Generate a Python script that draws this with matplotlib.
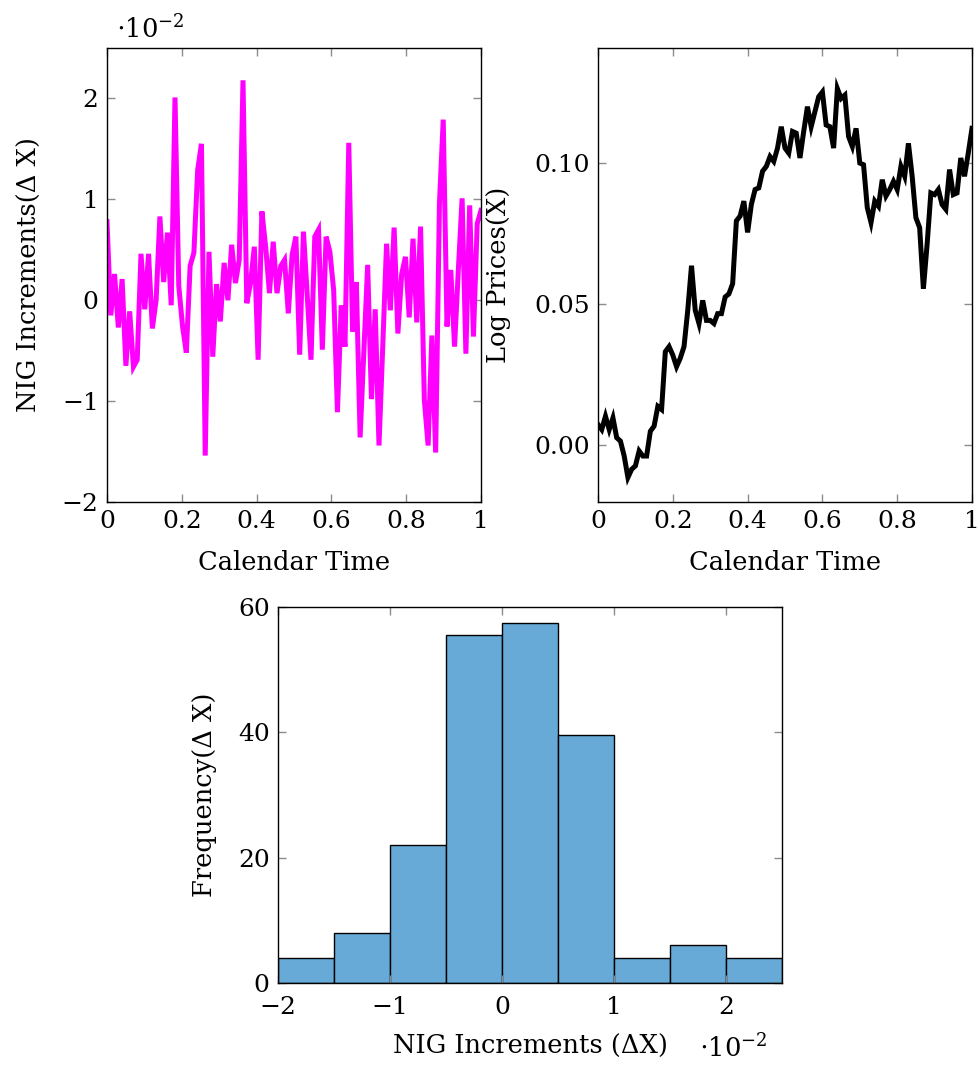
import numpy as np
import matplotlib
matplotlib.use('Agg')
import matplotlib.pyplot as plt

plt.rcParams['font.family'] = ['DejaVu Serif']
plt.rcParams['mathtext.fontset'] = 'dejavuserif'
plt.rcParams['axes.unicode_minus'] = True

# NIG increments, in units of 1e-2
nig_incr = [0.78, -0.15, 0.26, -0.27, 0.21, -0.65, -0.11, -0.66, -0.59, 0.46,
            -0.09, 0.46, -0.28, 0.00, 0.83, 0.18, 0.67, -0.05, 2.01, 0.14,
            -0.26, -0.52, 0.34, 0.47, 1.29, 1.55, -1.54, 0.48, -0.56, 0.16,
            -0.21, 0.37, 0.00, 0.55, 0.17, 0.40, 2.18, -0.03, 0.17, 0.53,
            -0.59, 0.88, 0.53, 0.07, 0.58, 0.07, 0.34, 0.40, -0.13, 0.45,
            0.63, -0.54, 0.68, 0.05, -0.59, 0.63, 0.70, -0.49, 0.63, 0.48,
            0.10, -1.11, -0.05, -0.46, 1.56, -0.31, 0.18, -1.36, -0.50, 0.35,
            -0.98, -0.09, -1.44, -0.45, 0.56, -0.10, 0.72, -0.33, 0.26, 0.43,
            -0.17, 0.61, -0.22, 0.73, -0.99, -1.44, -0.35, -1.51, 0.96, 1.79,
            -0.26, 0.30, -0.46, 0.30, 1.01, -0.53, 0.94, -0.36, 0.76, 0.89]

# log prices X
log_prices = [0.0073, 0.0055, 0.0102, 0.0055, 0.0096, 0.0026, 0.0014, -0.0039, -0.0115, -0.0086,
              -0.0074, -0.0021, -0.0039, -0.0039, 0.0049, 0.0067, 0.0137, 0.0126, 0.0331, 0.0349,
              0.0319, 0.0278, 0.0308, 0.0349, 0.0478, 0.0636, 0.0478, 0.0431, 0.0513, 0.0442,
              0.0442, 0.0431, 0.0466, 0.0466, 0.0525, 0.0536, 0.0572, 0.0795, 0.0812, 0.0865,
              0.0754, 0.0853, 0.0906, 0.0912, 0.0971, 0.0988, 0.1023, 0.1006, 0.1053, 0.1129,
              0.1053, 0.1035, 0.1112, 0.1106, 0.1018, 0.1112, 0.1200, 0.1129, 0.1182, 0.1235,
              0.1252, 0.1135, 0.1129, 0.1053, 0.1264, 0.1229, 0.1241, 0.1094, 0.1059, 0.1123,
              0.1000, 0.0994, 0.0842, 0.0789, 0.0865, 0.0847, 0.0941, 0.0883, 0.0906, 0.0935,
              0.0906, 0.0988, 0.0953, 0.1070, 0.0953, 0.0806, 0.0771, 0.0554, 0.0712, 0.0894,
              0.0888, 0.0906, 0.0853, 0.0836, 0.0977, 0.0888, 0.0894, 0.1018, 0.0953, 0.1035,
              0.1123]

# histogram of increments (bin edges in units of 1e-2)
bin_edges = [-2.0, -1.5, -1.0, -0.5, 0.0, 0.5, 1.0, 1.5, 2.0, 2.5]
bin_counts = [4, 8, 22, 55.5, 57.5, 39.5, 4, 6, 4]

t_incr = np.linspace(0, 1, len(nig_incr))
t_logp = np.linspace(0, 1, len(log_prices))

fs = 18
tick_gray = '#8c8c8c'


def style(ax):
    ax.tick_params(direction='in', length=6, width=1, color=tick_gray,
                   top=True, right=True, labelsize=fs, pad=6)
    for s in ax.spines.values():
        s.set_linewidth(1.0)


fig = plt.figure(figsize=(9.79, 10.65), dpi=100)

# top left: increments
ax1 = fig.add_axes([107 / 979, 1 - 502 / 1065, 374 / 979, 454 / 1065])
ax1.plot(t_incr, nig_incr, color='#ff00ff', lw=3.6, solid_joinstyle='miter')
ax1.set_xlim(0, 1)
ax1.set_ylim(-2, 2.5)
ax1.set_xticks([0, 0.2, 0.4, 0.6, 0.8, 1])
ax1.set_xticklabels(['0', '0.2', '0.4', '0.6', '0.8', '1'])
ax1.set_yticks([-2, -1, 0, 1, 2])
ax1.set_yticklabels(['\u22122', '\u22121', '0', '1', '2'])
ax1.set_xlabel('Calendar Time', fontsize=fs + 0.5)
ax1.set_ylabel('NIG Increments(\u0394 X)', fontsize=fs + 0.5)
ax1.xaxis.set_label_coords(0.5, -0.105)
ax1.yaxis.set_label_coords(-0.175, 0.5)
ax1.text(0.025, 1.01, r'$\cdot 10^{-2}$', transform=ax1.transAxes,
         fontsize=fs + 0.5, ha='left', va='bottom')
style(ax1)

# top right: log prices
ax2 = fig.add_axes([598 / 979, 1 - 502 / 1065, 374 / 979, 454 / 1065])
ax2.plot(t_logp, log_prices, color='black', lw=3.6, solid_joinstyle='miter')
ax2.set_xlim(0, 1)
ax2.set_ylim(-0.0202, 0.1408)
ax2.set_xticks([0, 0.2, 0.4, 0.6, 0.8, 1])
ax2.set_xticklabels(['0', '0.2', '0.4', '0.6', '0.8', '1'])
ax2.set_yticks([0.0, 0.05, 0.10])
ax2.set_yticklabels(['0.00', '0.05', '0.10'])
ax2.set_xlabel('Calendar Time', fontsize=fs + 0.5)
ax2.set_ylabel('Log Prices(X)', fontsize=fs + 0.5)
ax2.xaxis.set_label_coords(0.5, -0.105)
ax2.yaxis.set_label_coords(-0.232, 0.5)
style(ax2)

# bottom: histogram
ax3 = fig.add_axes([278 / 979, 1 - 983 / 1065, 504 / 979, 376 / 1065])
ax3.bar(bin_edges[:-1], bin_counts, width=np.diff(bin_edges), align='edge',
        color='#67aad7', edgecolor='black', linewidth=1.0)
ax3.set_xlim(-2, 2.5)
ax3.set_ylim(0, 60)
ax3.set_xticks([-2, -1, 0, 1, 2])
ax3.set_xticklabels(['\u22122', '\u22121', '0', '1', '2'])
ax3.set_yticks([0, 20, 40, 60])
ax3.set_xlabel('NIG Increments (\u0394X)', fontsize=fs + 0.5)
ax3.set_ylabel('Frequency(\u0394 X)', fontsize=fs + 0.5)
ax3.xaxis.set_label_coords(0.5, -0.135)
ax3.yaxis.set_label_coords(-0.122, 0.5)
ax3.text(0.835, -0.135, r'$\cdot 10^{-2}$', transform=ax3.transAxes,
         fontsize=fs + 0.5, ha='left', va='top')
style(ax3)
ax3.tick_params(axis='x', pad=9)

fig.savefig('out.png', dpi=100)
